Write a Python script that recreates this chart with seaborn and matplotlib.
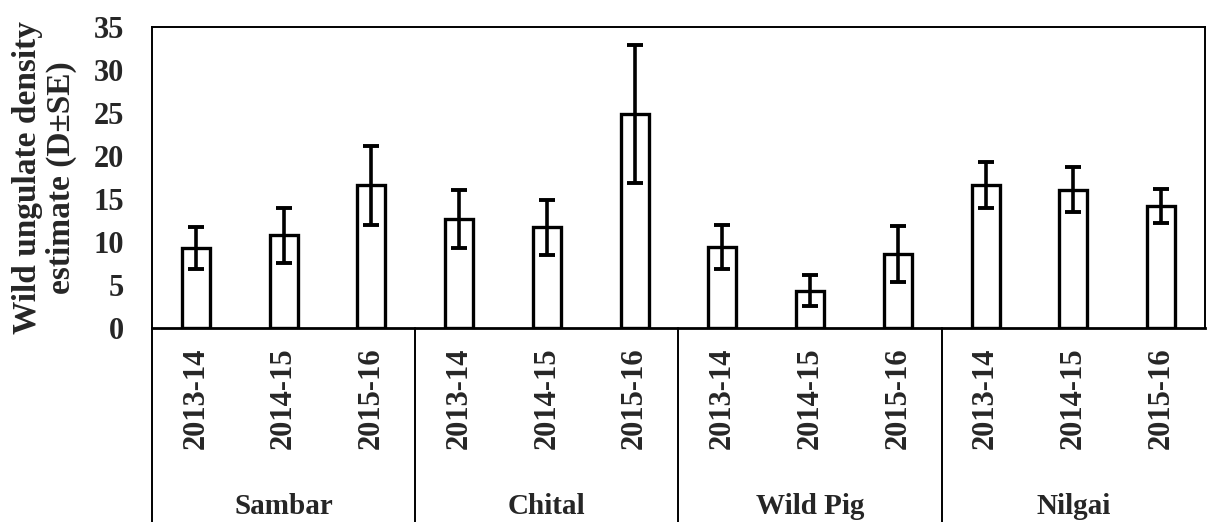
import matplotlib
matplotlib.use("Agg")
import matplotlib.pyplot as plt
import matplotlib.transforms as mtransforms
import seaborn as sns
import pandas as pd

species = ["Sambar", "Chital", "Wild Pig", "Nilgai"]
years = ["2013-14", "2014-15", "2015-16"]
density = [9.3, 10.8, 16.6,
           12.7, 11.7, 24.9,
           9.4, 4.3, 8.6,
           16.6, 16.1, 14.2]
se = [2.4, 3.2, 4.6,
      3.4, 3.2, 8.0,
      2.6, 1.8, 3.3,
      2.7, 2.6, 2.0]
y_ticks = [0, 5, 10, 15, 20, 25, 30, 35]

sns.set_style("white")
plt.rcParams["font.family"] = ["Liberation Serif", "DejaVu Serif"]
plt.rcParams["font.weight"] = "bold"

keys = [f"{sp}|{yr}" for sp in species for yr in years]
year_labels = [yr for sp in species for yr in years]
df = pd.DataFrame({"key": keys, "density": density, "se": se})

fig = plt.figure(figsize=(12.09, 5.22), dpi=100)
ax = fig.add_axes([0.1257, 0.372, 0.8710, 0.576])

sns.barplot(data=df, x="key", y="density", order=keys, errorbar=None,
            width=0.32, color="white", edgecolor="black", linewidth=2.4, ax=ax)
xpos = list(range(len(keys)))
ax.errorbar(xpos, df["density"], yerr=df["se"], fmt="none", ecolor="black",
            elinewidth=2.6, capsize=6, capthick=2.8, zorder=5)

ax.set_xlim(-0.5, len(keys) - 0.5)
ax.set_ylim(0, 35)
ax.set_yticks(y_ticks)
ax.set_yticklabels([str(t) for t in y_ticks], fontsize=22, fontweight="bold")
ax.set_xticks(xpos)
ax.set_xticklabels(year_labels, rotation=90, fontsize=22, fontweight="bold",
                   va="top")
ax.tick_params(axis="both", length=0)
ax.tick_params(axis="x", pad=14)
ax.tick_params(axis="y", pad=20)
ax.set_xlabel("")
ax.set_ylabel("Wild ungulate density\nestimate (D±SE)", fontsize=24,
              fontweight="bold", linespacing=1.1, labelpad=12)

for side in ["top", "right", "left"]:
    ax.spines[side].set_visible(True)
    ax.spines[side].set_color("black")
    ax.spines[side].set_linewidth(1.4)
ax.spines["bottom"].set_color("black")
ax.spines["bottom"].set_linewidth(2.0)

trans = mtransforms.blended_transform_factory(ax.transData, ax.transAxes)
bottom_frac = -0.372 / 0.576
for xs in [-0.5, 2.5, 5.5, 8.5]:
    ax.plot([xs, xs], [0, bottom_frac], transform=trans, color="black",
            lw=1.4, clip_on=False)

for i, sp in enumerate(species):
    ax.text(i * 3 + 1, -0.595, sp, transform=trans, ha="center", va="center",
            fontsize=21, fontweight="bold")

fig.savefig("out.png", dpi=100)
